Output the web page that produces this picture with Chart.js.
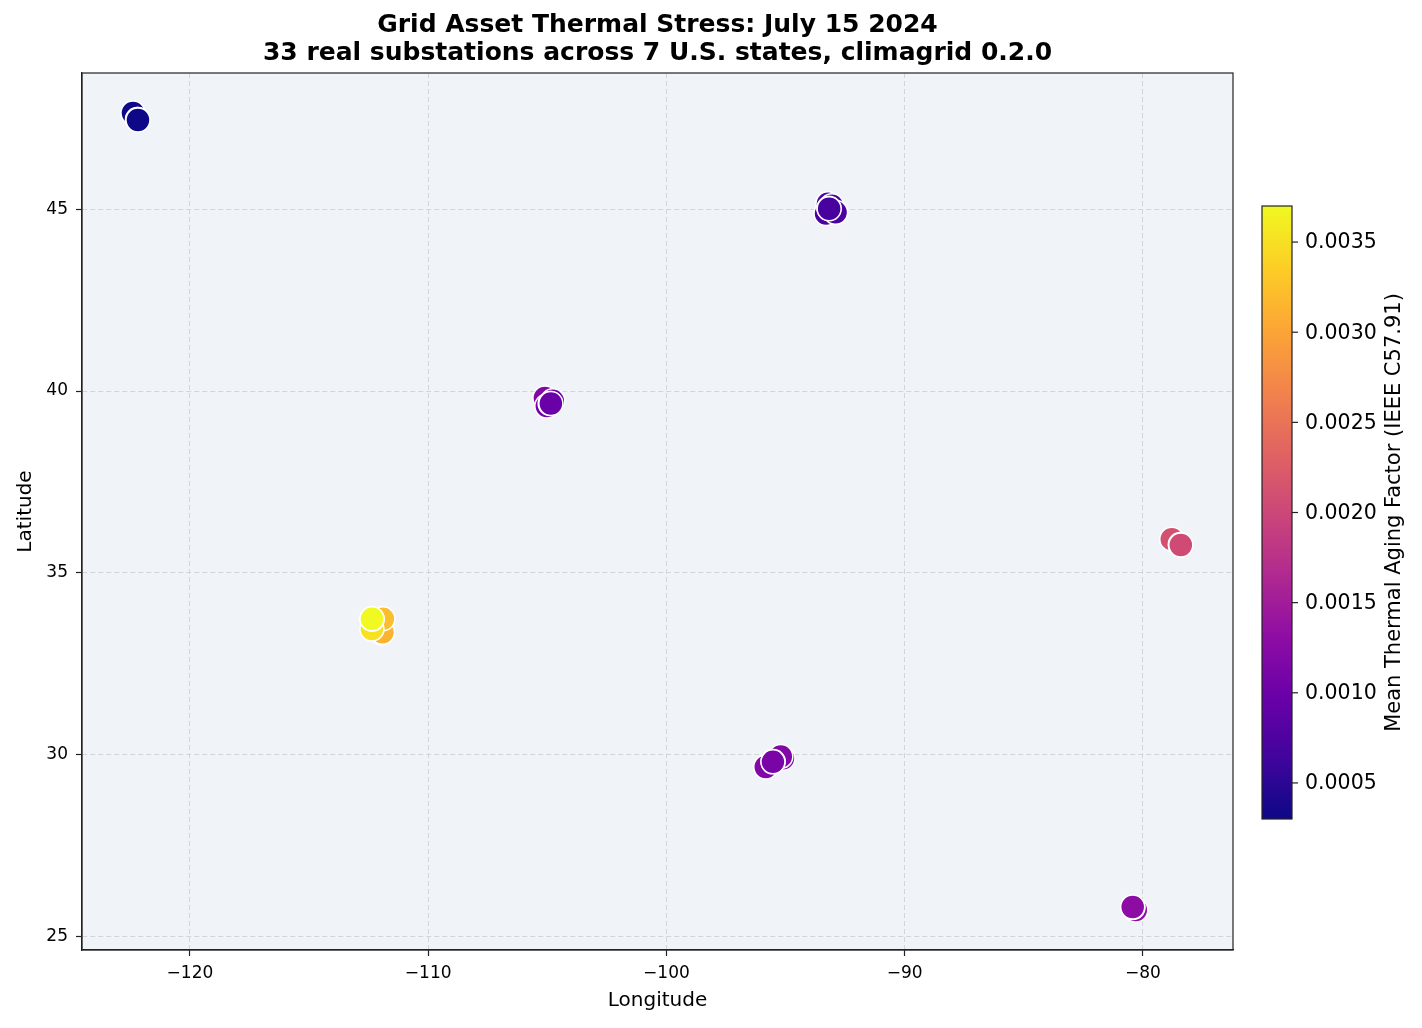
<!DOCTYPE html>
<html><head><meta charset="utf-8">
<script src="https://cdn.jsdelivr.net/npm/chart.js@4.4.1/dist/chart.umd.min.js"></script>
<style>html,body{margin:0;padding:0;background:#fff;} #wrap{width:1422px;height:1028px;position:relative;}</style>
</head><body><div id="wrap"><canvas id="c" width="1422" height="1028"></canvas></div>
<script>
// ---- data ----
const longitude = [
  -122.39, -122.20, -122.19, -122.18,
  -93.22, -93.06, -93.30, -92.90, -93.18, -93.17,
  -105.10, -105.02, -104.77, -104.88, -104.85,
  -111.94, -111.92, -111.90, -112.36, -112.35, -112.36,
  -78.79, -78.43, -78.42, -78.41,
  -95.83, -95.11, -95.20, -95.52, -95.53,
  -80.30, -80.42, -80.43
];
const latitude = [
  47.64, 47.46, 47.46, 47.45,
  45.15, 45.09, 44.88, 44.91, 45.02, 45.01,
  39.81, 39.59, 39.73, 39.66, 39.66,
  33.35, 33.37, 33.74, 33.46, 33.73, 33.74,
  35.93, 35.78, 35.77, 35.77,
  29.67, 29.91, 29.96, 29.82, 29.81,
  25.74, 25.81, 25.82
];
const agingFactor = [
  0.00031, 0.00030, 0.00031, 0.00030,
  0.00072, 0.00071, 0.00074, 0.00071, 0.00069, 0.00070,
  0.00120, 0.00105, 0.00102, 0.00099, 0.00098,
  0.00312, 0.00313, 0.00322, 0.00352, 0.00365, 0.00370,
  0.00212, 0.00206, 0.00205, 0.00205,
  0.00120, 0.00118, 0.00119, 0.00113, 0.00112,
  0.00128, 0.00129, 0.00129
];
const xTicks = [-120, -110, -100, -90, -80];
const yTicks = [25, 30, 35, 40, 45];
const colorbarTicks = [0.0005, 0.0010, 0.0015, 0.0020, 0.0025, 0.0030, 0.0035];
const titleLines = ["Grid Asset Thermal Stress: July 15 2024", "33 real substations across 7 U.S. states, climagrid 0.2.0"];
const xLabel = "Longitude";
const yLabel = "Latitude";
const colorbarLabel = "Mean Thermal Aging Factor (IEEE C57.91)";

// ---- plasma colormap ----
const plasmaStops = ["#0d0887","#41049d","#6a00a8","#8f0da4","#b12a90","#cc4778","#e16462","#f2844b","#fca636","#fcce25","#f0f921"];
function hex2rgb(h){return [parseInt(h.slice(1,3),16),parseInt(h.slice(3,5),16),parseInt(h.slice(5,7),16)];}
function plasma(t){
  t = Math.max(0, Math.min(1, t));
  const p = t * (plasmaStops.length - 1);
  const i = Math.min(Math.floor(p), plasmaStops.length - 2);
  const f = p - i;
  const a = hex2rgb(plasmaStops[i]), b = hex2rgb(plasmaStops[i+1]);
  const c = a.map((v,k)=>Math.round(v + (b[k]-v)*f));
  return `rgb(${c[0]},${c[1]},${c[2]})`;
}
const vmin = Math.min(...agingFactor), vmax = Math.max(...agingFactor);
const pointColors = agingFactor.map(v => plasma((v - vmin) / (vmax - vmin)));
const points = longitude.map((x, i) => ({x, y: latitude[i]}));

const FONT = "'DejaVu Sans', sans-serif";
const fmtMinus = v => (v < 0 ? "\u2212" + Math.abs(v) : String(v));

const framePlugin = {
  id: 'frame',
  beforeDraw(chart) {
    const {ctx, chartArea: a} = chart;
    ctx.save();
    ctx.fillStyle = '#f0f3f8';
    ctx.fillRect(a.left, a.top, a.right - a.left, a.bottom - a.top);
    ctx.restore();
  },
  afterDraw(chart) {
    const {ctx, chartArea: a} = chart;
    ctx.save();
    ctx.strokeStyle = '#222';
    ctx.lineWidth = 1.2;
    ctx.setLineDash([]);
    ctx.strokeRect(a.left, a.top, a.right - a.left, a.bottom - a.top);
    // title
    ctx.fillStyle = '#000';
    ctx.textAlign = 'center';
    ctx.textBaseline = 'middle';
    ctx.font = `bold 25px ${FONT}`;
    const cx = (a.left + a.right) / 2;
    ctx.fillText(titleLines[0], cx, 25);
    ctx.fillText(titleLines[1], cx, 53);
    // colorbar
    const cbL = 1262, cbR = 1292, cbT = 206, cbB = 819;
    const g = ctx.createLinearGradient(0, cbB, 0, cbT);
    for (let k = 0; k <= 50; k++) g.addColorStop(k/50, plasma(k/50));
    ctx.fillStyle = g;
    ctx.fillRect(cbL, cbT, cbR - cbL, cbB - cbT);
    ctx.strokeStyle = '#222';
    ctx.lineWidth = 1.2;
    ctx.strokeRect(cbL, cbT, cbR - cbL, cbB - cbT);
    ctx.font = `20.5px ${FONT}`;
    ctx.textAlign = 'left';
    ctx.textBaseline = 'middle';
    ctx.fillStyle = '#000';
    colorbarTicks.forEach(v => {
      const y = cbB - (v - vmin) / (vmax - vmin) * (cbB - cbT);
      ctx.beginPath();
      ctx.moveTo(cbR, y); ctx.lineTo(cbR + 6, y);
      ctx.stroke();
      ctx.fillText(v.toFixed(4), cbR + 13, y + 1);
    });
    ctx.save();
    ctx.translate(1395, (cbT + cbB) / 2);
    ctx.rotate(-Math.PI / 2);
    ctx.textAlign = 'center';
    ctx.textBaseline = 'middle';
    ctx.font = `21px ${FONT}`;
    ctx.fillText(colorbarLabel, 0, 0);
    ctx.restore();
    ctx.restore();
  }
};

const gridCommon = {
  color: '#d3d5da',
  lineWidth: 1,
  tickColor: '#222',
  tickLength: 6,
  tickWidth: 1.2,
  tickBorderDash: [],
};
const borderCommon = {display: true, color: '#222', width: 1.2, dash: [5, 3]};

new Chart(document.getElementById('c'), {
  type: 'scatter',
  data: {
    datasets: [{
      data: points,
      pointBackgroundColor: pointColors,
      pointBorderColor: '#ffffff',
      pointBorderWidth: 1.5,
      pointRadius: 12,
      pointHoverRadius: 12,
    }]
  },
  options: {
    responsive: false,
    animation: false,
    devicePixelRatio: 1,
    events: [],
    layout: {padding: {left: 0, top: 73, right: 189, bottom: 0}},
    plugins: {legend: {display: false}, tooltip: {enabled: false}, title: {display: false}},
    scales: {
      x: {
        type: 'linear', min: -124.53, max: -76.22,
        afterBuildTicks: s => { s.ticks = xTicks.map(v => ({value: v})); },
        afterFit: s => { s.height = 78; },
        grid: gridCommon,
        border: borderCommon,
        ticks: {color: '#000', font: {family: FONT, size: 17}, padding: 7, callback: v => fmtMinus(v), maxRotation: 0},
        title: {display: true, text: xLabel, color: '#000', font: {family: FONT, size: 20}, padding: {top: 0, bottom: 15}}
      },
      y: {
        type: 'linear', min: 24.64, max: 48.74,
        afterBuildTicks: s => { s.ticks = yTicks.map(v => ({value: v})); },
        afterFit: s => { s.width = 82; },
        grid: gridCommon,
        border: borderCommon,
        ticks: {color: '#000', font: {family: FONT, size: 17}, padding: 8, callback: v => String(v)},
        title: {display: true, text: yLabel, color: '#000', font: {family: FONT, size: 20}, padding: {top: 14, bottom: 0}}
      }
    }
  },
  plugins: [framePlugin]
});
</script>
</body></html>
